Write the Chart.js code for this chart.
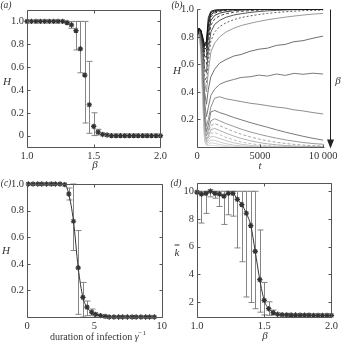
<!DOCTYPE html>
<html><head><meta charset="utf-8">
<script src="https://cdn.jsdelivr.net/npm/chart.js@4"></script>
<style>
html,body{margin:0;padding:0;background:#fff}
body{width:341px;height:342px;position:relative;overflow:hidden;font-family:"Liberation Serif","DejaVu Serif",serif;color:#333}
canvas{position:absolute}
.t{position:absolute;transform:translate(-50%,-50%);white-space:nowrap;line-height:1;font-size:10.5px}
.i{font-style:italic}
</style></head><body>
<canvas id="ca" width="170" height="170" style="left:0;top:0"></canvas>
<canvas id="cb" width="171" height="170" style="left:170px;top:0"></canvas>
<canvas id="cc" width="170" height="172" style="left:0;top:170px"></canvas>
<canvas id="cd" width="171" height="172" style="left:170px;top:170px"></canvas>
<span class="t i" style="left:6px;top:6px;font-size:9.5px">(a)</span>
<span class="t i" style="left:177px;top:6px;font-size:9.5px">(b)</span>
<span class="t i" style="left:6px;top:184px;font-size:9.5px">(c)</span>
<span class="t i" style="left:176px;top:184px;font-size:9.5px">(d)</span>
<span class="t i" style="left:7px;top:81px;font-size:11px">H</span>
<span class="t i" style="left:177px;top:70px;font-size:11px">H</span>
<span class="t i" style="left:6px;top:250px;font-size:11px">H</span>
<span class="t i" style="left:177px;top:252px;font-size:11px;text-decoration:overline">k</span>
<span class="t i" style="left:95px;top:164px;font-size:11px">β</span>
<span class="t i" style="left:260px;top:165px;font-size:11px">t</span>
<span class="t" style="left:98px;top:336px;font-size:10px">duration of infection <i>γ</i><sup style="font-size:7px">−1</sup></span>
<span class="t i" style="left:265px;top:335px;font-size:11px">β</span>
<span class="t i" style="left:338px;top:80px;font-size:11px">β</span>
<script>
// ---------- panel (a) ----------
const aBeta = [1,1.033,1.067,1.1,1.133,1.167,1.2,1.233,1.267,1.3,1.333,1.367,1.4,1.433,1.467,1.5,1.533,1.567,1.6,1.633,1.667,1.7,1.733,1.767,1.8,1.833,1.867,1.9,1.933,1.967,2];
const aH    = [1,1,1,1,1,1,1,1,1,0.99,0.97,0.92,0.76,0.53,0.27,0.08,0.03,0.01,0.005,0,0,0,0,0,0,0,0,0,0,0,0];
const aLo   = [null,null,null,null,null,null,null,null,null,null,0.94,0.75,0.55,0.11,0.02,0.0,0.005,null,null,null,null,null,null,null,null,null,null,null,null,null,null];
const aHi   = [null,null,null,null,null,null,null,null,null,null,1.0,1.0,1.0,1.0,0.65,0.2,0.055,null,null,null,null,null,null,null,null,null,null,null,null,null,null];
const aXTicks = [1,1.5,2];
const aXTickLabels = ['1.0','1.5','2.0'];
const aYTicks = [0,0.2,0.4,0.6,0.8,1.0];
const aYTickLabels = ['0','0.2','0.4','0.6','0.8','1.0'];

// ---------- panel (b) ----------
const tB = [0,150,300,450,600,750,900,1100,1400,1800,2300,2900,3500,4200,4900,5600,6300,7000,7700,8400,9200,10000];
const bD1 = [0.80,0.86,0.85,0.80,0.74,0.77,0.94,0.985,0.995,1,1,1,1,1,1,1,1,1,1,1,1,1];
const bD2 = [0.80,0.86,0.85,0.79,0.73,0.75,0.91,0.975,0.99,0.996,0.999,1,1,1,1,1,1,1,1,1,1,1];
const bD3 = [0.80,0.86,0.84,0.78,0.71,0.72,0.88,0.96,0.982,0.991,0.996,0.999,1,1,1,1,1,1,1,1,1,1];
const bD4 = [0.80,0.86,0.84,0.77,0.69,0.69,0.85,0.945,0.972,0.985,0.992,0.996,0.998,1,1,1,1,1,1,1,1,1];
const bD5 = [0.80,0.86,0.84,0.76,0.66,0.65,0.81,0.92,0.955,0.972,0.982,0.99,0.994,0.997,0.999,1,1,1,1,1,1,1];
const bD6 = [0.80,0.86,0.83,0.75,0.62,0.60,0.76,0.885,0.93,0.953,0.968,0.978,0.985,0.99,0.994,0.997,0.999,1,1,1,1,1];
const bD7 = [0.80,0.86,0.83,0.73,0.57,0.54,0.70,0.835,0.89,0.92,0.942,0.958,0.968,0.977,0.984,0.989,0.992,0.995,0.997,0.998,0.999,1];
const bD8 = [0.80,0.85,0.82,0.71,0.52,0.47,0.63,0.77,0.835,0.875,0.902,0.924,0.94,0.952,0.962,0.97,0.977,0.982,0.986,0.99,0.992,0.994];
const bD9 = [0.80,0.85,0.82,0.69,0.47,0.40,0.55,0.69,0.755,0.80,0.835,0.862,0.882,0.898,0.912,0.924,0.934,0.943,0.951,0.958,0.965,0.97];
const bM1 = [0.80,0.85,0.81,0.66,0.40,0.31,0.42,0.51,0.565,0.61,0.635,0.66,0.672,0.695,0.71,0.718,0.738,0.745,0.765,0.772,0.79,0.805];
const bM2 = [0.80,0.85,0.80,0.63,0.33,0.22,0.29,0.375,0.42,0.455,0.475,0.49,0.505,0.51,0.522,0.515,0.53,0.52,0.535,0.528,0.536,0.53];
const bM3 = [0.80,0.84,0.79,0.59,0.27,0.15,0.20,0.29,0.355,0.365,0.35,0.34,0.33,0.318,0.31,0.30,0.29,0.283,0.27,0.262,0.25,0.24];
const bL1 = [0.80,0.84,0.78,0.56,0.22,0.11,0.16,0.255,0.265,0.25,0.235,0.215,0.198,0.178,0.16,0.143,0.125,0.108,0.093,0.078,0.063,0.05];
const bL2 = [0.80,0.83,0.77,0.53,0.18,0.08,0.12,0.19,0.205,0.19,0.17,0.15,0.13,0.11,0.093,0.078,0.064,0.052,0.042,0.033,0.025,0.02];
const bL3 = [0.80,0.83,0.76,0.50,0.15,0.06,0.10,0.155,0.17,0.155,0.135,0.113,0.093,0.074,0.058,0.045,0.034,0.026,0.019,0.014,0.01,0.007];
const bL4 = [0.80,0.82,0.75,0.47,0.12,0.05,0.08,0.125,0.135,0.12,0.10,0.08,0.062,0.046,0.033,0.023,0.016,0.011,0.007,0.005,0.003,0.002];
const bL5 = [0.80,0.82,0.74,0.44,0.10,0.04,0.065,0.10,0.105,0.09,0.07,0.052,0.037,0.025,0.016,0.01,0.006,0.004,0.002,0.001,0,0];
const bL6 = [0.80,0.81,0.73,0.41,0.08,0.03,0.05,0.075,0.075,0.062,0.046,0.031,0.02,0.012,0.007,0.004,0.002,0.001,0,0,0,0];
const bL7 = [0.80,0.81,0.72,0.38,0.06,0.02,0.035,0.05,0.048,0.036,0.024,0.014,0.008,0.004,0.002,0.001,0,0,0,0,0,0];
const bL8 = [0.80,0.80,0.71,0.35,0.05,0.015,0.02,0.03,0.026,0.018,0.01,0.005,0.002,0.001,0,0,0,0,0,0,0,0];
const bL9 = [0.80,0.80,0.70,0.32,0.04,0.01,0.01,0.012,0.01,0.006,0.003,0.001,0,0,0,0,0,0,0,0,0,0];
const bXTicks = [0,5000,10000];
const bXTickLabels = ['0','5000','10 000'];
const bYTicks = [0.2,0.4,0.6,0.8,1.0];
const bYTickLabels = ['0.2','0.4','0.6','0.8','1.0'];

// ---------- panel (c) ----------
const cX  = [0.1,0.45,0.8,1.1,1.45,1.8,2.1,2.45,2.8,3.1,3.45,3.8,4.15,4.45,4.8,5.1,5.45,5.8,6.1,6.45,6.8,7.1,7.45,7.8,8.1,8.45,8.8,9.1,9.45];
const cH  = [1,1,1,1,1,1,1,1,0.995,0.925,0.72,0.37,0.147,0.074,0.036,0.02,0.01,0.005,0,0,0,0,0,0,0,0,0,0,0];
const cLo = [null,null,null,null,null,null,null,null,null,0.88,0.5,0.02,0.0,0.01,0.01,null,null,null,null,null,null,null,null,null,null,null,null,null,null];
const cHi = [null,null,null,null,null,null,null,null,null,0.97,1.0,0.65,0.26,0.12,0.06,null,null,null,null,null,null,null,null,null,null,null,null,null,null];
const cXTicks = [0,5,10];
const cXTickLabels = ['0','5','10'];
const cYTicks = [0.2,0.4,0.6,0.8,1.0];
const cYTickLabels = ['0.2','0.4','0.6','0.8','1.0'];

// ---------- panel (d) ----------
const dBeta = [1,1.033,1.067,1.1,1.133,1.167,1.2,1.233,1.267,1.3,1.333,1.367,1.4,1.433,1.467,1.5,1.533,1.567,1.6,1.633,1.667,1.7,1.733,1.767,1.8,1.833,1.867,1.9,1.933,1.967,2];
const dK  = [9.93,9.8,9.85,10.0,9.85,9.8,9.65,9.85,9.85,9.42,9.04,8.41,7.52,5.65,3.6,2.1,1.5,1.22,1.1,1.06,1.05,1.04,1.04,1.03,1.03,1.03,1.02,1.02,1.02,1.02,1.02];
const dLo = [9.85,7.7,8.4,9.6,9.5,8.9,7.6,8.3,8.2,5.9,4.9,2.35,1.95,1.5,1.25,1.05,1.02,1.05,null,null,null,null,null,null,null,null,null,null,null,null,null];
const dHi = [10,10,10,10.1,10,10,10,10,10,10,10,10,10,10,7.2,3.4,2.0,1.4,null,null,null,null,null,null,null,null,null,null,null,null,null];
const dXTicks = [1,1.5,2];
const dXTickLabels = ['1.0','1.5','2.0'];
const dYTicks = [2,4,6,8,10];
const dYTickLabels = ['2','4','6','8','10'];

// ---------- common ----------
Chart.defaults.font.family = '"Liberation Serif","DejaVu Serif",serif';
Chart.defaults.font.size = 10.5;
Chart.defaults.color = '#333';
Chart.defaults.animation = false;

const deco = {
  id: 'deco',
  beforeDatasetsDraw(chart, args, o) {
    if (!o.xs) return;
    const ctx = chart.ctx, xs = chart.scales.x, ys = chart.scales.y;
    ctx.save();
    ctx.strokeStyle = '#777'; ctx.lineWidth = 0.9;
    for (let i = 0; i < o.xs.length; i++) {
      if (o.lo[i] == null) continue;
      const px = Math.round(xs.getPixelForValue(o.xs[i])) + 0.5;
      const y1 = ys.getPixelForValue(o.lo[i]), y2 = ys.getPixelForValue(o.hi[i]);
      ctx.beginPath();
      ctx.moveTo(px, y1); ctx.lineTo(px, y2);
      ctx.moveTo(px - 3, y1); ctx.lineTo(px + 3, y1);
      ctx.moveTo(px - 3, y2); ctx.lineTo(px + 3, y2);
      ctx.stroke();
    }
    ctx.restore();
  },
  afterDatasetsDraw(chart, args, o) {
    const ctx = chart.ctx, a = chart.chartArea, xs = chart.scales.x, ys = chart.scales.y;
    const L = Math.round(a.left) + 0.5, R = Math.round(a.right) + 0.5, T = Math.round(a.top) + 0.5, B = Math.round(a.bottom) + 0.5;
    ctx.save();
    ctx.strokeStyle = '#555'; ctx.lineWidth = 1;
    ctx.beginPath();
    if (o.box) { ctx.rect(L, T, R - L, B - T); }
    else { ctx.moveTo(L, T); ctx.lineTo(L, B); ctx.lineTo(R - 5, B); }
    ctx.stroke();
    ctx.beginPath();
    xs.ticks.forEach(t => {
      const p = Math.round(xs.getPixelForValue(t.value)) + 0.5;
      ctx.moveTo(p, B); ctx.lineTo(p, B - 3);
      if (o.box) { ctx.moveTo(p, T); ctx.lineTo(p, T + 3); }
    });
    ys.ticks.forEach(t => {
      const p = Math.round(ys.getPixelForValue(t.value)) + 0.5;
      ctx.moveTo(L, p); ctx.lineTo(L + 3, p);
      if (o.box) { ctx.moveTo(R, p); ctx.lineTo(R - 3, p); }
    });
    ctx.stroke();
    if (o.arrow) {
      const ax = R + 1;
      ctx.strokeStyle = '#222'; ctx.fillStyle = '#222';
      ctx.beginPath(); ctx.moveTo(ax, T); ctx.lineTo(ax, B - 6); ctx.stroke();
      ctx.beginPath(); ctx.moveTo(ax - 3.5, B - 8); ctx.lineTo(ax + 3.5, B - 8); ctx.lineTo(ax, B + 1); ctx.closePath(); ctx.fill();
    }
    ctx.restore();
  }
};

function scales(xmin, xmax, xt, xl, ymin, ymax, yt, yl, xh) {
  return {
    x: { type: 'linear', min: xmin, max: xmax, grid: { display: false, drawTicks: false }, border: { display: false },
         afterBuildTicks: s => { s.ticks = xt.map(v => ({ value: v })); },
         afterFit: s => { s.height = xh; },
         ticks: { padding: 3, maxRotation: 0, autoSkip: false, callback: (v, i) => xl[i] } },
    y: { type: 'linear', min: ymin, max: ymax, grid: { display: false, drawTicks: false }, border: { display: false },
         afterBuildTicks: s => { s.ticks = yt.map(v => ({ value: v })); },
         afterFit: s => { s.width = 27; },
         ticks: { padding: 3, autoSkip: false, callback: (v, i) => yl[i] } }
  };
}
const pts = (xs, ys) => xs.map((x, i) => ({ x: x, y: ys[i] }));
const baseOpts = (pad, sc, deco) => ({
  responsive: false, animation: false, events: [],
  layout: { padding: pad },
  plugins: { legend: { display: false }, tooltip: { enabled: false }, deco: deco },
  scales: sc
});
const marker = { pointStyle: 'star', pointRadius: 2.7, pointBorderColor: '#333', pointBorderWidth: 1.2, pointBackgroundColor: '#333', clip: false };

// (a)
new Chart(document.getElementById('ca'), {
  type: 'line',
  data: { datasets: [Object.assign({ data: pts(aBeta, aH), showLine: false }, marker)] },
  options: baseOpts({ left: 0, top: 10, right: 7, bottom: 0 },
    scales(1, 2, aXTicks, aXTickLabels, -0.1, 1.1, aYTicks, aYTickLabels, 23),
    { box: true, xs: aBeta, lo: aLo, hi: aHi }),
  plugins: [deco]
});

// (b)
const bSeries = [
  [bD1, '#111', []], [bD2, '#1e1e1e', []], [bD3, '#2a2a2a', []], [bD4, '#333', [3, 2]],
  [bD5, '#3c3c3c', []], [bD6, '#474747', [3, 2]], [bD7, '#555', []], [bD8, '#606060', [2, 2]],
  [bD9, '#9a9a9a', []], [bM1, '#707070', []], [bM2, '#7c7c7c', []], [bM3, '#8e8e8e', []],
  [bL1, '#7a7a7a', []], [bL2, '#999', []], [bL3, '#a6a6a6', [3, 2]], [bL4, '#b0b0b0', []],
  [bL5, '#bbb', [3, 2]], [bL6, '#c4c4c4', []], [bL7, '#ccc', []], [bL8, '#d4d4d4', []], [bL9, '#dcdcdc', []]
];
new Chart(document.getElementById('cb'), {
  type: 'line',
  data: { datasets: bSeries.map(s => ({ data: pts(tB, s[0]), borderColor: s[1], borderDash: s[2], borderWidth: 1, pointRadius: 0, tension: 0 })) },
  options: baseOpts({ left: 0, top: 7, right: 10, bottom: 0 },
    scales(0, 10500, bXTicks, bXTickLabels, 0, 1, bYTicks, bYTickLabels, 23),
    { box: false, arrow: true }),
  plugins: [deco]
});

// (c)
new Chart(document.getElementById('cc'), {
  type: 'line',
  data: { datasets: [Object.assign({ data: pts(cX, cH), borderColor: '#333', borderWidth: 1, cubicInterpolationMode: 'monotone' }, marker)] },
  options: baseOpts({ left: 0, top: 14, right: 7, bottom: 0 },
    scales(0, 10, cXTicks, cXTickLabels, 0, 1, cYTicks, cYTickLabels, 25),
    { box: true, xs: cX, lo: cLo, hi: cHi }),
  plugins: [deco]
});

// (d)
new Chart(document.getElementById('cd'), {
  type: 'line',
  data: { datasets: [Object.assign({ data: pts(dBeta, dK), borderColor: '#333', borderWidth: 1, cubicInterpolationMode: 'monotone' }, marker)] },
  options: baseOpts({ left: 0, top: 13, right: 8, bottom: 0 },
    scales(1, 2, dXTicks, dXTickLabels, 0.9, 10.6, dYTicks, dYTickLabels, 25),
    { box: true, xs: dBeta, lo: dLo, hi: dHi }),
  plugins: [deco]
});
</script>
</body></html>
